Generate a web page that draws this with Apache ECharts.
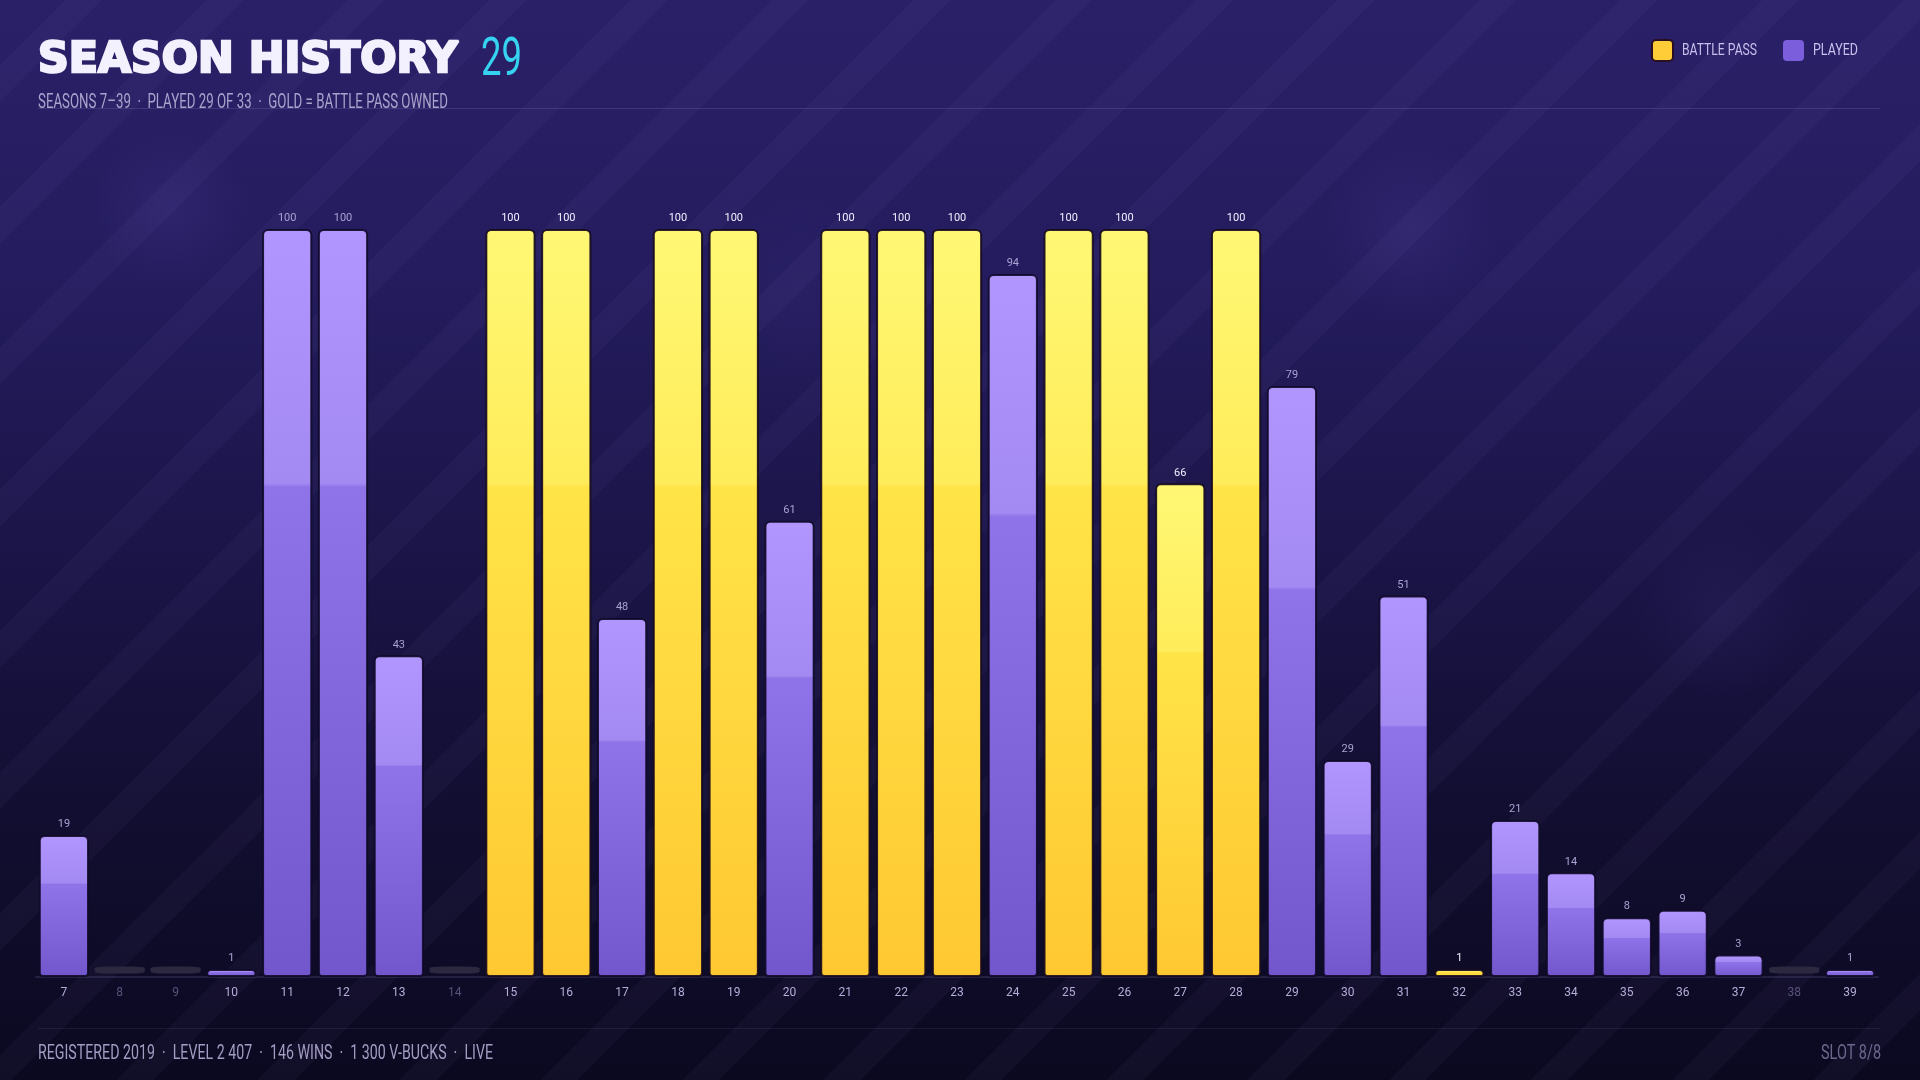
<!DOCTYPE html>
<html>
<head>
<meta charset="utf-8">
<script src="https://cdn.jsdelivr.net/npm/echarts@6/dist/echarts.min.js"></script>
<style>
  html, body {
    margin: 0;
    padding: 0;
    width: 1920px;
    height: 1080px;
    overflow: hidden;
  }
  body {
    background:
      repeating-linear-gradient(135deg, rgba(255,255,255,0) 0px, rgba(255,255,255,0) 46px, rgba(190,170,255,0.035) 46px, rgba(190,170,255,0.035) 72px, rgba(255,255,255,0) 72px, rgba(255,255,255,0) 100px),
      radial-gradient(circle at 170px 210px, rgba(120,100,220,0.10) 0, rgba(120,100,220,0) 80px),
      radial-gradient(circle at 1410px 230px, rgba(120,100,220,0.10) 0, rgba(120,100,220,0) 90px),
      radial-gradient(circle at 1720px 610px, rgba(120,100,220,0.08) 0, rgba(120,100,220,0) 90px),
      radial-gradient(circle at 800px 300px, rgba(120,100,220,0.06) 0, rgba(120,100,220,0) 110px),
      linear-gradient(180deg, #2a2068 0%, #241c5e 25%, #1b1549 50%, #120e31 75%, #0b0920 100%);
  }
  #chart {
    width: 1920px;
    height: 1080px;
  }
</style>
</head>
<body>
<div id="chart"></div>
<script>
// season numbers on the x axis
const seasons = ['7', '8', '9', '10', '11', '12', '13', '14', '15', '16', '17', '18', '19', '20', '21', '22', '23',
  '24', '25', '26', '27', '28', '29', '30', '31', '32', '33', '34', '35', '36', '37', '38', '39'];

// tier progress per season (0 = not played)
const progress = [19, 0, 0, 1, 100, 100, 43, 0, 100, 100, 48, 100, 100, 61, 100, 100, 100,
  94, 100, 100, 66, 100, 79, 29, 51, 1, 21, 14, 8, 9, 3, 0, 1];

// 1 = battle pass owned that season
const battlePass = [0, 0, 0, 0, 0, 0, 0, 0, 1, 1, 0, 1, 1, 0, 1, 1, 1,
  0, 1, 1, 1, 1, 0, 0, 0, 1, 0, 0, 0, 0, 0, 0, 0];

// 1 = season was played at all
const played = [1, 0, 0, 1, 1, 1, 1, 0, 1, 1, 1, 1, 1, 1, 1, 1, 1,
  1, 1, 1, 1, 1, 1, 1, 1, 1, 1, 1, 1, 1, 1, 0, 1];

const legendNames = ['BATTLE PASS', 'PLAYED'];

const FONT = 'Roboto, "DejaVu Sans", sans-serif';

const bpData = progress.map((v, i) => (played[i] && battlePass[i]) ? v : '-');
const playedData = progress.map((v, i) => (played[i] && !battlePass[i]) ? v : '-');
const emptyData = progress.map((v, i) => played[i] ? '-' : 0);

// squeeze a text horizontally so it fills a given width (no condensed font installed)
const measureCtx = document.createElement('canvas').getContext('2d');
function fit(text, font, width) {
  measureCtx.font = font;
  return width / measureCtx.measureText(text).width;
}

function label(text, x, y, font, width, fill, align) {
  return {
    type: 'text',
    x: x,
    y: y,
    scaleX: fit(text, font, width),
    silent: true,
    style: {
      text: text,
      font: font,
      fill: fill,
      align: align || 'left',
      verticalAlign: 'middle'
    }
  };
}

const goldFill = new echarts.graphic.LinearGradient(0, 0, 0, 1, [
  { offset: 0, color: '#fff875' },
  { offset: 0.34, color: '#ffec5a' },
  { offset: 0.345, color: '#ffe448' },
  { offset: 1, color: '#ffc832' }
]);
const purpleFill = new echarts.graphic.LinearGradient(0, 0, 0, 1, [
  { offset: 0, color: '#b296ff' },
  { offset: 0.34, color: '#a389f2' },
  { offset: 0.345, color: '#8f73e8' },
  { offset: 1, color: '#7256cc' }
]);

const chart = echarts.init(document.getElementById('chart'), null, { renderer: 'canvas' });

const titleFont = '900 42px "DejaVu Sans", sans-serif';
const titleText = label('SEASON HISTORY', 38, 61, titleFont, 420, '#f4f1ff');
titleText.style.stroke = '#f4f1ff';
titleText.style.lineWidth = 2.5;

chart.setOption({
  backgroundColor: 'transparent',
  animation: false,
  grid: {
    left: 36,
    right: 42,
    top: 229,
    bottom: 103
  },
  xAxis: {
    type: 'category',
    data: seasons,
    axisTick: { show: false },
    axisLine: { show: true, lineStyle: { color: 'rgba(150,140,210,0.16)', width: 2 } },
    axisLabel: {
      margin: 10,
      fontFamily: FONT,
      fontSize: 12,
      color: (val, idx) => played[idx] ? '#b5acd8' : '#58527a'
    }
  },
  yAxis: {
    type: 'value',
    min: 0,
    max: 100,
    show: false,
    splitLine: { show: false }
  },
  series: [
    {
      name: 'EMPTY',
      type: 'pictorialBar',
      data: emptyData,
      symbol: 'roundRect',
      symbolSize: [50, 7],
      symbolPosition: 'start',
      symbolOffset: [0, '-50%'],
      itemStyle: { color: '#2b2840' },
      z: 1,
      silent: true
    },
    {
      name: legendNames[0],
      type: 'bar',
      data: bpData,
      barWidth: '90%',
      barGap: '-100%',
      barMinHeight: 8,
      itemStyle: {
        color: goldFill,
        borderColor: 'rgba(22,10,30,0.9)',
        borderWidth: 2,
        borderRadius: [5, 5, 3, 3]
      },
      label: {
        show: true,
        position: 'top',
        distance: 5,
        fontFamily: FONT,
        fontSize: 11,
        color: '#f3efff'
      },
      z: 3
    },
    {
      name: legendNames[1],
      type: 'bar',
      data: playedData,
      barWidth: '90%',
      barGap: '-100%',
      barMinHeight: 8,
      itemStyle: {
        color: purpleFill,
        borderColor: 'rgba(16,10,40,0.9)',
        borderWidth: 2,
        borderRadius: [5, 5, 3, 3]
      },
      label: {
        show: true,
        position: 'top',
        distance: 5,
        fontFamily: FONT,
        fontSize: 11,
        color: '#aaa2d2'
      },
      z: 3
    }
  ],
  graphic: [
    titleText,
    label('29', 481, 61, '400 54px ' + FONT, 41, '#36d3f0'),
    label('SEASONS 7–39  ·  PLAYED 29 OF 33  ·  GOLD = BATTLE PASS OWNED', 38, 103, '400 20px ' + FONT, 410, '#aaa3cc'),
    {
      type: 'rect',
      shape: { x: 38, y: 108, width: 1842, height: 1 },
      style: { fill: 'rgba(170,160,230,0.18)' },
      silent: true
    },
    // legend
    {
      type: 'rect',
      shape: { x: 1652, y: 40, width: 21, height: 21, r: 4 },
      style: { fill: '#ffcd38', stroke: '#2a0f22', lineWidth: 2 },
      silent: true
    },
    label(legendNames[0], 1682, 51, '400 17px ' + FONT, 75, '#c9c0ee'),
    {
      type: 'rect',
      shape: { x: 1783, y: 40, width: 21, height: 21, r: 4 },
      style: { fill: '#7a5edc' },
      silent: true
    },
    label(legendNames[1], 1813, 51, '400 17px ' + FONT, 45, '#c9c0ee'),
    // footer
    {
      type: 'rect',
      shape: { x: 38, y: 1028, width: 1842, height: 1 },
      style: { fill: 'rgba(170,160,230,0.10)' },
      silent: true
    },
    label('REGISTERED 2019  ·  LEVEL 2 407  ·  146 WINS  ·  1 300 V-BUCKS  ·  LIVE', 38, 1054, '400 21px ' + FONT, 455, '#a39cc2'),
    label('SLOT 8/8', 1881, 1054, '400 21px ' + FONT, 60, '#6d678e', 'right')
  ]
});
</script>
</body>
</html>
